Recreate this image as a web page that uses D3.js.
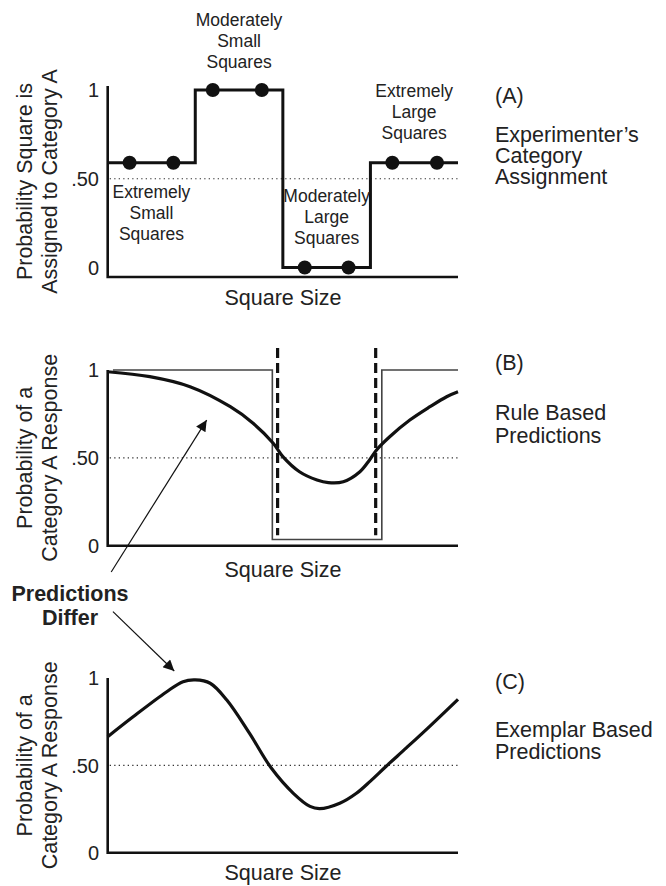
<!DOCTYPE html>
<html>
<head>
<meta charset="utf-8">
<script src="https://cdn.jsdelivr.net/npm/d3@7"></script>
<style>
  body { margin: 0; background: #fff; }
  svg text { font-family: "Liberation Sans", Arial, Helvetica, sans-serif; fill: #222; }
</style>
</head>
<body>
<svg id="chart" width="666" height="886"></svg>
<script>
// --- data ---
const yTicks = [0, 0.5, 1];
const yTickLabels = ["0", ".50", "1"];

// panel A: experimenter's assignment (4 size groups, step function)
const groupEdges = [0, 1, 2, 3, 4];
const groupLevels = [0.59, 1, 0, 0.59];
const stimulusX = [0.25, 0.75, 1.2, 1.76, 2.25, 2.75, 3.25, 3.76];
const stimulusY = [0.59, 0.59, 1, 1, 0, 0, 0.59, 0.59];
const groupNames = [
  ["Extremely", "Small", "Squares"],
  ["Moderately", "Small", "Squares"],
  ["Moderately", "Large", "Squares"],
  ["Extremely", "Large", "Squares"]
];

// panel B: rule based
const ruleStepX = [0.06, 1.88, 1.88, 3.13, 3.13, 4];
const ruleStepY = [1, 1, 0.035, 0.035, 1, 1];
const ruleBounds = [1.94, 3.06];
const ruleCurveX = [0, 0.48, 0.94, 1.4, 1.66, 1.89, 2.0, 2.19, 2.39, 2.52, 2.69, 2.88, 2.99, 3.07, 3.22, 3.45, 3.68, 3.87, 4.0];
const ruleCurveY = [0.99, 0.962, 0.905, 0.791, 0.697, 0.583, 0.507, 0.421, 0.374, 0.359, 0.364, 0.421, 0.488, 0.545, 0.62, 0.715, 0.791, 0.848, 0.876];

// panel C: exemplar based
const exCurveX = [0, 0.29, 0.67, 0.86, 1.0, 1.17, 1.36, 1.62, 1.87, 2.12, 2.31, 2.42, 2.65, 2.84, 3.0, 3.18, 3.41, 3.68, 4.0];
const exCurveY = [0.664, 0.778, 0.92, 0.979, 0.989, 0.97, 0.874, 0.683, 0.483, 0.34, 0.265, 0.252, 0.283, 0.34, 0.41, 0.495, 0.6, 0.725, 0.878];

const panelTags = ["(A)", "(B)", "(C)"];
const panelTitles = [
  ["Experimenter\u2019s", "Category", "Assignment"],
  ["Rule Based", "Predictions"],
  ["Exemplar Based", "Predictions"]
];
const yTitles = [
  ["Probability Square is", "Assigned to Category A"],
  ["Probability of a", "Category A Response"],
  ["Probability of a", "Category A Response"]
];

// --- layout ---
const svg = d3.select("#chart");
const x = d3.scaleLinear().domain([0, 4]).range([107.7, 458]);
const panels = [
  { top: 90, bottom: 267.5, axisTop: 86, axisY: 277, titleY: 305, tagY: 103, textY: 142, lh: 20.8 },
  { top: 370, bottom: 545.7, axisTop: 370, axisY: 545.7, titleY: 577, tagY: 370, textY: 420, lh: 23 },
  { top: 678, bottom: 852.7, axisTop: 678, axisY: 852.7, titleY: 880, tagY: 689, textY: 737, lh: 22 }
];
panels.forEach(p => { p.y = d3.scaleLinear().domain([0, 1]).range([p.bottom, p.top]); });

svg.append("defs").append("marker")
  .attr("id", "head")
  .attr("viewBox", "0 0 10 10")
  .attr("refX", 10).attr("refY", 5)
  .attr("markerWidth", 16).attr("markerHeight", 11)
  .attr("markerUnits", "userSpaceOnUse")
  .attr("orient", "auto")
  .append("path").attr("d", "M0,0 L10,5 L0,10 Z").attr("fill", "#111");

const line = d3.line().x(d => x(d[0]));
const fs = 21.5;

panels.forEach((p, i) => {
  const g = svg.append("g");

  // dotted .50 reference
  g.append("line")
    .attr("x1", x(0) + 2).attr("x2", x(4))
    .attr("y1", p.y(0.5)).attr("y2", p.y(0.5))
    .attr("stroke", "#333").attr("stroke-width", 1.2)
    .attr("stroke-dasharray", "1.3,3.2");

  // axes (plain L-shape, no tick marks)
  g.append("path")
    .attr("d", `M${x(0)},${p.axisTop} L${x(0)},${p.axisY} L${x(4)},${p.axisY}`)
    .attr("fill", "none").attr("stroke", "#111").attr("stroke-width", 2.6);

  g.selectAll(".tick").data(yTicks).join("text")
    .attr("x", 99).attr("y", d => p.y(d))
    .attr("dy", "0.36em").attr("text-anchor", "end")
    .attr("font-size", 20)
    .text((d, k) => yTickLabels[k]);

  g.append("text")
    .attr("x", 283).attr("y", p.titleY)
    .attr("text-anchor", "middle").attr("font-size", fs)
    .text("Square Size");

  const yt = g.append("text")
    .attr("transform", `translate(0,${(p.axisTop + p.axisY) / 2}) rotate(-90)`)
    .attr("text-anchor", "middle").attr("font-size", fs);
  yTitles[i].forEach((s, k) => yt.append("tspan").attr("x", 0).attr("y", 32 + k * 25).text(s));

  g.append("text").attr("x", 495).attr("y", p.tagY).attr("font-size", fs).text(panelTags[i]);
  panelTitles[i].forEach((s, k) => {
    g.append("text").attr("x", 495).attr("y", p.textY + k * p.lh).attr("font-size", fs).text(s);
  });
});

// --- panel A ---
const pA = panels[0];
const stepPts = [];
groupLevels.forEach((v, k) => { stepPts.push([groupEdges[k], v], [groupEdges[k + 1], v]); });
svg.append("path")
  .attr("d", line.y(d => pA.y(d[1]))(stepPts))
  .attr("fill", "none").attr("stroke", "#111").attr("stroke-width", 3);

svg.selectAll(".dot").data(d3.zip(stimulusX, stimulusY)).join("circle")
  .attr("cx", d => x(d[0])).attr("cy", d => pA.y(d[1])).attr("r", 7).attr("fill", "#111");

// group labels: centered over each group, above or below its step
const labelBase = [198, 26, 202, 97];
groupNames.forEach((lines, k) => {
  lines.forEach((s, j) => {
    svg.append("text")
      .attr("x", x(k + 0.5)).attr("y", labelBase[k] + j * 21)
      .attr("text-anchor", "middle").attr("font-size", 17.5)
      .text(s);
  });
});

// --- panel B ---
const pB = panels[1];
svg.append("path")
  .attr("d", line.y(d => pB.y(d[1]))(d3.zip(ruleStepX, ruleStepY)))
  .attr("fill", "none").attr("stroke", "#444").attr("stroke-width", 1.6);

ruleBounds.forEach(b => {
  svg.append("line")
    .attr("x1", x(b)).attr("x2", x(b))
    .attr("y1", pB.y(1.125)).attr("y2", pB.y(0.06))
    .attr("stroke", "#111").attr("stroke-width", 3.2)
    .attr("stroke-dasharray", "10,5");
});

const smooth = d3.line().x(d => x(d[0])).curve(d3.curveCatmullRom.alpha(0.5));
svg.append("path")
  .attr("d", smooth.y(d => pB.y(d[1]))(d3.zip(ruleCurveX, ruleCurveY)))
  .attr("fill", "none").attr("stroke", "#111").attr("stroke-width", 3.2);

// --- panel C ---
const pC = panels[2];
svg.append("path")
  .attr("d", smooth.y(d => pC.y(d[1]))(d3.zip(exCurveX, exCurveY)))
  .attr("fill", "none").attr("stroke", "#111").attr("stroke-width", 3.2);

// --- "Predictions Differ" callout ---
svg.append("text").attr("x", 70).attr("y", 601)
  .attr("text-anchor", "middle").attr("font-size", fs).attr("font-weight", "bold").text("Predictions");
svg.append("text").attr("x", 70).attr("y", 625)
  .attr("text-anchor", "middle").attr("font-size", fs).attr("font-weight", "bold").text("Differ");

svg.append("line")
  .attr("x1", x(0.04)).attr("y1", pB.y(-0.15))
  .attr("x2", x(1.13)).attr("y2", pB.y(0.715))
  .attr("stroke", "#111").attr("stroke-width", 1.2).attr("marker-end", "url(#head)");
svg.append("line")
  .attr("x1", x(0.06)).attr("y1", pC.y(1.38))
  .attr("x2", x(0.76)).attr("y2", pC.y(1.04))
  .attr("stroke", "#111").attr("stroke-width", 1.2).attr("marker-end", "url(#head)");
</script>
</body>
</html>
